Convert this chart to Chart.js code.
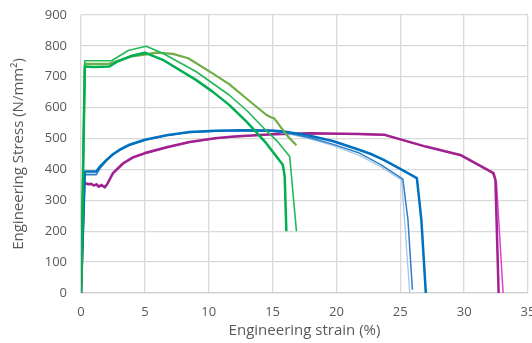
<!DOCTYPE html>
<html>
<head>
<meta charset="utf-8">
<script src="https://cdn.jsdelivr.net/npm/chart.js@4/dist/chart.umd.min.js"></script>
<style>
  html, body { margin: 0; padding: 0; background: #ffffff; }
  #wrap { width: 532px; height: 343px; }
</style>
</head>
<body>
<div id="wrap"><canvas id="c" width="532" height="343"></canvas></div>
<script>
// Tensile test curves: engineering strain (%) vs engineering stress (N/mm²)
const xTicks = [0, 5, 10, 15, 20, 25, 30, 35];
const yTicks = [0, 100, 200, 300, 400, 500, 600, 700, 800, 900];

const greenThickStrain = [0, 0.3, 1.0, 2.2, 2.8, 4.0, 5.0, 6.4, 9.0, 10.3, 11.6, 13.0, 14.5, 15.8, 15.95, 16.08];
const greenThickStress = [0, 733, 732, 733, 748, 768, 778, 755, 690, 652, 609, 553, 485, 415, 377, 200];

const greenThinStrain = [0, 0.3, 2.0, 2.4, 3.7, 5.1, 6.4, 9.0, 11.6, 13.0, 14.3, 15.4, 16.34, 16.87];
const greenThinStress = [0, 752, 752, 752, 785, 799, 776, 717, 641, 590, 534, 490, 442, 200];

const oliveStrain = [0, 0.3, 2.2, 3.8, 5.0, 5.9, 7.2, 8.4, 10.3, 11.6, 13.0, 14.5, 14.9, 15.1, 15.4, 15.7, 16.2, 16.87];
const oliveStress = [0, 742, 742, 765, 772, 778, 774, 760, 711, 676, 628, 577, 568, 566, 551, 534, 507, 478];

const blueThickStrain = [0, 0.3, 1.2, 1.5, 2.0, 2.5, 3.0, 3.8, 5.0, 6.7, 8.5, 10.5, 12.5, 15.0, 16.0, 17.0, 18.0, 19.7, 21.6, 22.7, 23.7, 25.0, 26.3, 26.65, 27.0];
const blueThickStress = [0, 393, 393, 410, 431, 449, 463, 480, 496, 511, 521, 525, 527, 526, 522, 516, 508, 492, 466, 450, 431, 402, 372, 237, 0];

const blueMidStrain = [0, 0.3, 1.2, 1.5, 2.0, 2.5, 3.0, 3.8, 5.0, 6.7, 8.5, 10.5, 12.5, 15.0, 16.6, 18.0, 19.7, 21.8, 23.5, 25.2, 25.6, 25.95];
const blueMidStress = [0, 383, 383, 404, 428, 447, 461, 478, 495, 510, 520, 524, 526, 524, 515, 502, 482, 453, 415, 369, 237, 10];

const blueLightStrain = [0, 0.3, 1.2, 1.5, 2.0, 2.5, 3.0, 3.8, 5.0, 6.7, 8.5, 10.5, 12.5, 15.0, 16.6, 18.0, 19.7, 21.8, 23.5, 25.1, 25.4, 25.74];
const blueLightStress = [0, 386, 386, 406, 430, 448, 462, 479, 495, 510, 520, 524, 526, 523, 512, 498, 478, 445, 408, 366, 200, 0];

const magentaStrain = [0, 0.25, 0.6, 0.8, 1.0, 1.2, 1.4, 1.6, 1.85, 2.05, 2.5, 3.3, 4.1, 5.0, 6.7, 8.5, 10.5, 12.0, 15.0, 18.0, 21.8, 23.8, 27.0, 29.7, 32.3, 32.45, 32.7];
const magentaStress = [0, 356, 352, 354, 348, 352, 344, 350, 342, 352, 388, 420, 440, 453, 472, 489, 501, 507, 514, 517, 515, 512, 474, 447, 388, 366, 0];

const pinkStrain = [0, 0.25, 1.0, 1.95, 2.5, 3.3, 4.1, 5.0, 6.7, 8.5, 10.5, 12.0, 15.0, 18.0, 21.8, 23.8, 27.0, 29.7, 32.2, 32.53, 33.05];
const pinkStress = [0, 354, 350, 346, 386, 418, 438, 451, 470, 488, 500, 506, 513, 516, 514, 511, 473, 446, 390, 358, 0];

function pts(xs, ys) { return xs.map((x, i) => ({ x: x, y: ys[i] })); }

function series(label, xs, ys, color, width) {
  return {
    label: label,
    data: pts(xs, ys),
    borderColor: color,
    backgroundColor: color,
    borderWidth: width,
    pointRadius: 0,
    showLine: true,
    tension: 0,
    borderJoinStyle: 'round',
    borderCapStyle: 'butt',
    fill: false
  };
}

const TEXT = '#595959';
const GRID = '#d9d9d9';

// Axis titles drawn centred on the plot area
const axisTitles = {
  id: 'axisTitles',
  afterDraw(chart) {
    const ctx = chart.ctx;
    const a = chart.chartArea;
    ctx.save();
    ctx.fillStyle = TEXT;
    ctx.font = '15px "Open Sans"';
    ctx.textAlign = 'center';
    ctx.textBaseline = 'middle';
    ctx.fillText('Engineering strain (%)', (a.left + a.right) / 2, 331);
    ctx.translate(19, (a.top + a.bottom) / 2);
    ctx.rotate(-Math.PI / 2);
    ctx.fillText('Engineering Stress (N/mm²)', 0, 0);
    ctx.restore();
  }
};

new Chart(document.getElementById('c'), {
  type: 'scatter',
  data: {
    datasets: [
      series('A1', greenThickStrain, greenThickStress, '#00b050', 2.5),
      series('A2', greenThinStrain, greenThinStress, '#21b857', 1.6),
      series('A3', oliveStrain, oliveStress, '#70ad47', 2.2),
      series('B1', blueThickStrain, blueThickStress, '#0070c0', 2.5),
      series('B2', blueMidStrain, blueMidStress, '#2e7fc8', 1.5),
      series('B3', blueLightStrain, blueLightStress, '#9dc3e6', 1.2),
      series('C1', magentaStrain, magentaStress, '#a0228f', 2.5),
      series('C2', pinkStrain, pinkStress, '#e040d2', 1.5)
    ]
  },
  options: {
    responsive: false,
    animation: false,
    devicePixelRatio: 1,
    layout: { padding: { top: 15, right: 4, left: 0, bottom: 0 } },
    plugins: { legend: { display: false }, tooltip: { enabled: false }, title: { display: false } },
    scales: {
      x: {
        type: 'linear',
        min: 0,
        max: 35,
        afterBuildTicks(scale) { scale.ticks = xTicks.map(v => ({ value: v })); },
        afterFit(scale) { scale.height = 50; scale.paddingLeft = 0; scale.paddingRight = 0; },
        ticks: { color: TEXT, font: { family: 'Open Sans', size: 13 }, padding: 11, maxRotation: 0 },
        grid: { color: GRID, lineWidth: 1.3, drawTicks: false },
        border: { color: '#cfcfcf', width: 1.3 }
      },
      y: {
        type: 'linear',
        min: 0,
        max: 900,
        afterBuildTicks(scale) { scale.ticks = yTicks.map(v => ({ value: v })); },
        afterFit(scale) { scale.width = 81; scale.paddingTop = 0; scale.paddingBottom = 0; },
        ticks: { color: TEXT, font: { family: 'Open Sans', size: 13 }, padding: 14 },
        grid: { color: GRID, lineWidth: 1.3, drawTicks: false },
        border: { display: false }
      }
    }
  },
  plugins: [axisTitles]
});
</script>
</body>
</html>
